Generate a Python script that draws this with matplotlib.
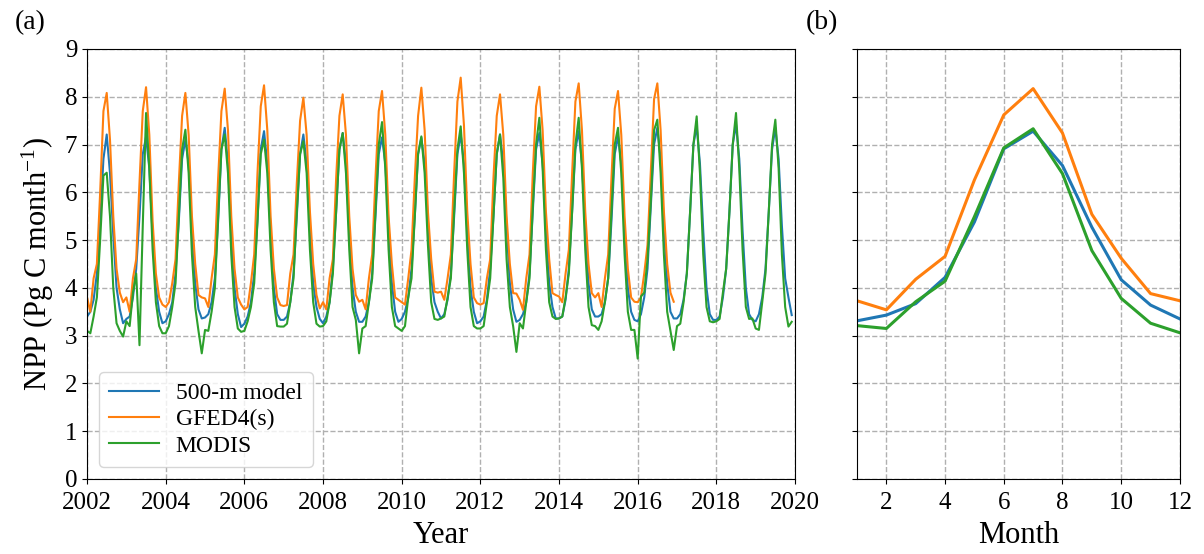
import numpy as np
import matplotlib
matplotlib.use("Agg")
import matplotlib.pyplot as plt

plt.rcParams['font.family'] = ['Liberation Serif', 'DejaVu Serif']
plt.rcParams['mathtext.fontset'] = 'custom'
plt.rcParams['mathtext.rm'] = 'Liberation Serif'
plt.rcParams['mathtext.it'] = 'Liberation Serif:italic'

start_year = 2002

# Monthly NPP (Pg C month^-1), 500-m model, 2002-2019
model_npp = [
    3.40, 3.50, 3.75, 4.30, 5.40, 6.70, 7.21, 6.40, 5.10, 4.00, 3.55, 3.26,  # 2002
    3.35, 3.40, 3.80, 4.40, 5.50, 6.80, 7.16, 6.50, 5.10, 4.00, 3.50, 3.26,  # 2003
    3.30, 3.45, 3.70, 4.30, 5.40, 6.70, 7.10, 6.60, 5.20, 4.10, 3.55, 3.36,  # 2004
    3.38, 3.45, 3.70, 4.20, 5.40, 6.90, 7.35, 6.60, 5.20, 4.00, 3.45, 3.18,  # 2005
    3.25, 3.40, 3.70, 4.30, 5.40, 6.90, 7.28, 6.60, 5.20, 4.00, 3.45, 3.33,  # 2006
    3.33, 3.40, 3.70, 4.30, 5.50, 6.80, 7.21, 6.60, 5.30, 4.10, 3.60, 3.35,  # 2007
    3.26, 3.40, 3.70, 4.40, 5.60, 6.90, 7.24, 6.60, 5.20, 4.00, 3.50, 3.29,  # 2008
    3.29, 3.40, 3.70, 4.30, 5.50, 6.80, 7.15, 6.60, 5.30, 4.10, 3.50, 3.29,  # 2009
    3.35, 3.50, 3.80, 4.40, 5.50, 6.80, 7.14, 6.60, 5.40, 4.20, 3.70, 3.50,  # 2010
    3.36, 3.45, 3.75, 4.30, 5.50, 6.80, 7.21, 6.60, 5.20, 4.00, 3.50, 3.26,  # 2011
    3.30, 3.40, 3.75, 4.40, 5.50, 6.80, 7.21, 6.60, 5.30, 4.10, 3.55, 3.29,  # 2012
    3.33, 3.45, 3.70, 4.30, 5.60, 6.90, 7.24, 6.60, 5.30, 4.10, 3.60, 3.36,  # 2013
    3.36, 3.40, 3.75, 4.40, 5.60, 6.90, 7.28, 6.60, 5.30, 4.10, 3.55, 3.40,  # 2014
    3.40, 3.45, 3.70, 4.20, 5.40, 6.80, 7.17, 6.60, 5.20, 4.00, 3.50, 3.33,  # 2015
    3.30, 3.45, 3.80, 4.40, 5.70, 7.00, 7.35, 6.70, 5.30, 4.10, 3.50, 3.36,  # 2016
    3.36, 3.45, 3.75, 4.30, 5.60, 7.00, 7.38, 6.60, 5.20, 4.00, 3.45, 3.33,  # 2017
    3.33, 3.40, 3.80, 4.40, 5.60, 7.00, 7.42, 6.70, 5.20, 4.00, 3.45, 3.33,  # 2018
    3.30, 3.45, 3.80, 4.40, 5.60, 6.90, 7.35, 6.70, 5.30, 4.20, 3.80, 3.43,  # 2019
]

# GFED4(s), 2002-2016
gfed_npp = [
    3.80, 3.50, 4.20, 4.50, 6.00, 7.70, 8.08, 7.10, 5.50, 4.40, 3.90, 3.70,  # 2002
    3.80, 3.50, 4.20, 4.60, 6.20, 7.70, 8.20, 7.20, 5.40, 4.30, 3.80, 3.65,  # 2003
    3.60, 3.70, 4.10, 4.60, 6.20, 7.60, 8.08, 7.20, 5.50, 4.50, 3.85, 3.80,  # 2004
    3.78, 3.60, 4.20, 4.70, 6.30, 7.70, 8.17, 7.30, 5.50, 4.40, 3.80, 3.65,  # 2005
    3.55, 3.60, 4.10, 4.70, 6.40, 7.80, 8.24, 7.30, 5.50, 4.40, 3.80, 3.64,  # 2006
    3.62, 3.64, 4.30, 4.70, 6.20, 7.50, 7.98, 7.20, 5.60, 4.50, 3.85, 3.57,  # 2007
    3.70, 3.55, 4.20, 4.60, 6.30, 7.60, 8.05, 7.20, 5.50, 4.40, 3.85, 3.71,  # 2008
    3.75, 3.55, 4.20, 4.70, 6.30, 7.70, 8.12, 7.20, 5.50, 4.50, 3.80, 3.75,  # 2009
    3.70, 3.65, 4.20, 4.80, 6.30, 7.60, 8.19, 7.30, 5.60, 4.60, 3.92, 3.90,  # 2010
    3.92, 3.75, 4.20, 4.70, 6.40, 7.90, 8.40, 7.40, 5.60, 4.50, 3.80, 3.68,  # 2011
    3.65, 3.68, 4.20, 4.60, 6.30, 7.60, 8.05, 7.20, 5.50, 4.50, 3.89, 3.88,  # 2012
    3.75, 3.54, 4.20, 4.70, 6.40, 7.80, 8.21, 7.30, 5.60, 4.60, 3.89, 3.85,  # 2013
    3.82, 3.70, 4.30, 4.80, 6.40, 7.90, 8.28, 7.30, 5.60, 4.50, 3.89, 3.80,  # 2014
    3.89, 3.60, 4.20, 4.70, 6.30, 7.75, 8.12, 7.20, 5.50, 4.40, 3.80, 3.71,  # 2015
    3.70, 3.80, 4.30, 4.90, 6.40, 7.95, 8.28, 7.30, 5.60, 4.50, 3.90, 3.71,  # 2016
]

# MODIS, 2002-2019
modis_npp = [
    3.10, 3.05, 3.40, 3.80, 5.00, 6.35, 6.41, 5.50, 4.00, 3.26, 3.10, 2.98,  # 2002
    3.30, 3.20, 3.90, 4.30, 2.80, 5.30, 7.66, 6.50, 4.80, 3.70, 3.20, 3.05,  # 2003
    3.05, 3.20, 3.60, 4.10, 5.50, 6.90, 7.31, 6.40, 4.70, 3.60, 3.10, 2.63,  # 2004
    3.12, 3.10, 3.50, 4.00, 5.50, 6.90, 7.21, 6.40, 4.70, 3.60, 3.15, 3.08,  # 2005
    3.10, 3.30, 3.60, 4.10, 5.40, 6.80, 7.10, 6.40, 4.80, 3.70, 3.20, 3.19,  # 2006
    3.19, 3.25, 3.70, 4.20, 5.60, 6.80, 7.07, 6.40, 4.80, 3.70, 3.25, 3.19,  # 2007
    3.20, 3.30, 3.70, 4.30, 5.60, 6.90, 7.24, 6.40, 4.80, 3.60, 3.33, 2.63,  # 2008
    3.15, 3.20, 3.70, 4.20, 5.60, 7.00, 7.47, 6.50, 4.80, 3.60, 3.20, 3.15,  # 2009
    3.10, 3.20, 3.80, 4.20, 5.50, 6.80, 7.17, 6.40, 4.90, 3.70, 3.35, 3.33,  # 2010
    3.36, 3.40, 3.80, 4.20, 5.60, 6.90, 7.38, 6.40, 4.80, 3.60, 3.20, 3.15,  # 2011
    3.15, 3.20, 3.70, 4.20, 5.50, 6.80, 7.21, 6.30, 4.60, 3.60, 3.20, 2.66,  # 2012
    3.26, 3.15, 3.70, 4.20, 5.70, 7.00, 7.56, 6.50, 4.80, 3.70, 3.40, 3.35,  # 2013
    3.36, 3.40, 3.80, 4.30, 5.60, 7.00, 7.56, 6.50, 4.80, 3.60, 3.22, 3.20,  # 2014
    3.12, 3.30, 3.70, 4.20, 5.60, 7.00, 7.35, 6.40, 4.70, 3.50, 3.12, 3.12,  # 2015
    2.52, 3.82, 3.90, 4.60, 5.80, 7.30, 7.52, 6.40, 4.70, 3.50, 3.10, 2.70,  # 2016
    3.20, 3.25, 3.70, 4.30, 5.60, 7.00, 7.59, 6.40, 4.70, 3.60, 3.30, 3.28,  # 2017
    3.30, 3.35, 3.90, 4.40, 5.60, 7.00, 7.66, 6.50, 4.80, 3.60, 3.35, 3.36,  # 2018
    3.15, 3.12, 3.70, 4.30, 5.60, 7.00, 7.52, 6.50, 4.70, 3.60, 3.19, 3.29,  # 2019
]

# Mean seasonal cycle (panel b)
months = list(range(1, 13))
model_clim = [3.31, 3.43, 3.67, 4.22, 5.38, 6.91, 7.28, 6.56, 5.27, 4.17, 3.64, 3.35]
gfed_clim = [3.73, 3.54, 4.18, 4.66, 6.26, 7.62, 8.17, 7.24, 5.54, 4.62, 3.88, 3.73]
modis_clim = [3.21, 3.15, 3.71, 4.14, 5.49, 6.93, 7.33, 6.39, 4.78, 3.78, 3.26, 3.06]

labels = ['500-m model', 'GFED4(s)', 'MODIS']
colors = ['#1f77b4', '#ff7f0e', '#2ca02c']

def time_axis(values):
    return start_year + np.arange(len(values)) / 12.0

fig = plt.figure(figsize=(12.04, 5.54), dpi=100)
ax1 = fig.add_axes([0.0723, 0.1354, 0.5880, 0.7762])
ax2 = fig.add_axes([0.7118, 0.1354, 0.2682, 0.7762], sharey=ax1)

grid_kw = dict(color='#b0b0b0', linestyle='--', linewidth=1.0)

for series, lab, col in zip([model_npp, gfed_npp, modis_npp], labels, colors):
    ax1.plot(time_axis(series), series, color=col, lw=1.5, label=lab)

ax1.set_xlim(2002, 2020)
ax1.set_ylim(0, 9)
ax1.set_xticks(np.arange(2002, 2021, 2))
ax1.set_yticks(np.arange(0, 10, 1))
ax1.grid(True, **grid_kw)
ax1.set_axisbelow(True)
ax1.tick_params(labelsize=18)
ax1.tick_params(axis='x', pad=6)
ax1.set_xlabel('Year', fontsize=22, labelpad=5)
ax1.set_ylabel('NPP (Pg C month$^{-1}$)', fontsize=22, labelpad=6)
ax1.legend(loc='lower left', fontsize=17, handlelength=2.1,
           handletextpad=0.7, borderpad=0.45, labelspacing=0.2)

for series, lab, col in zip([model_clim, gfed_clim, modis_clim], labels, colors):
    ax2.plot(months, series, color=col, lw=2.2, label=lab)

ax2.set_xlim(1, 12)
ax2.set_xticks([2, 4, 6, 8, 10, 12])
ax2.grid(True, **grid_kw)
ax2.set_axisbelow(True)
ax2.tick_params(labelsize=18)
ax2.tick_params(axis='x', pad=6)
ax2.set_xlabel('Month', fontsize=22, labelpad=5)
plt.setp(ax2.get_yticklabels(), visible=False)

fig.text(0.012, 0.96, '(a)', fontsize=20, va='center', ha='left')
fig.text(0.669, 0.96, '(b)', fontsize=20, va='center', ha='left')

fig.savefig('out.png', dpi=100)
